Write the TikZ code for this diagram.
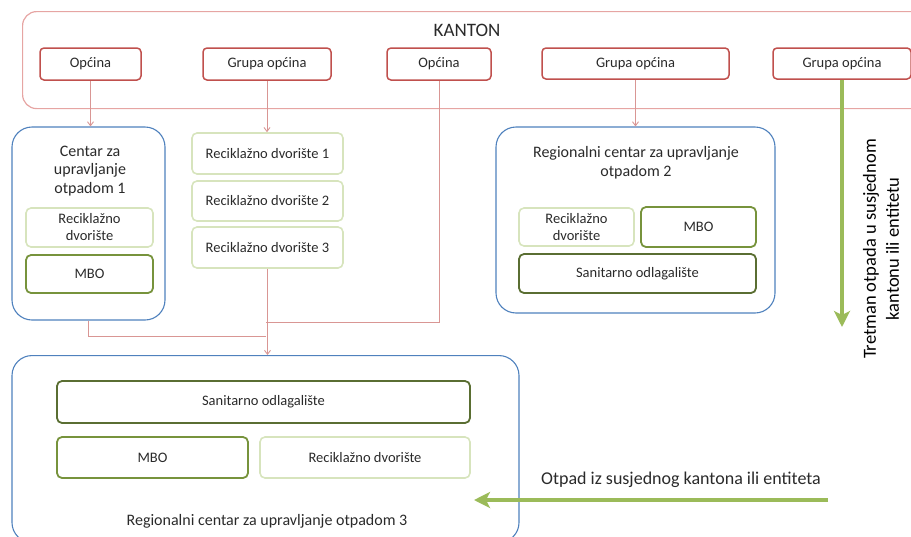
\documentclass[tikz,border=0pt]{standalone}
\usepackage{fontspec}
\setmainfont{Carlito}
\usetikzlibrary{arrows.meta}
\definecolor{kred}{HTML}{C0504D}
\definecolor{kpink}{HTML}{E6A5A3}
\definecolor{kline}{HTML}{D99694}
\definecolor{kblue}{HTML}{4F81BD}
\definecolor{lgreen}{HTML}{D7E4BD}
\definecolor{mgreen}{HTML}{77933C}
\definecolor{dgreen}{HTML}{5A6E32}
\definecolor{agreen}{HTML}{9BBB59}
\definecolor{txt}{HTML}{2A2A2A}
\tikzset{
  bt/.style={font=\fontsize{14.5}{17}\selectfont, text=txt, align=center, inner sep=1pt},
  redbox/.style={bt, draw=kred, line width=1.5pt, rounded corners=4pt, fill=white},
  bluebox/.style={draw=kblue, line width=1.1pt, rounded corners=20pt},
  lgbox/.style={bt, draw=lgreen, line width=1.6pt, rounded corners=5pt},
  mgbox/.style={bt, draw=mgreen, line width=1.8pt, rounded corners=5pt},
  dgbox/.style={bt, draw=dgreen, line width=1.8pt, rounded corners=5pt},
  redarrow/.style={draw=kline, line width=0.9pt, -{Straight Barb[length=4pt,width=6pt]}},
  redline/.style={draw=kline, line width=0.9pt},
  greenarrow/.style={draw=agreen, line width=3.2pt, -{Stealth[length=16pt,width=16pt,inset=4pt]}},
  lbl/.style={font=\fontsize{16}{19}\selectfont, text=txt, align=center, inner sep=1pt},
}
\begin{document}
\begin{tikzpicture}[x=1pt,y=-1pt]
\useasboundingbox (0,0) rectangle (911,536);
\clip (0,0) rectangle (911,536);
% KANTON container
\node[draw=kpink, line width=1.2pt, rounded corners=14pt, minimum width=910pt, minimum height=97pt, anchor=north west] (kanton) at (22,11) {};
\node[font=\fontsize{19}{21}\selectfont, text=txt] (kt) at (467,30) {KANTON};
% top boxes
\node[redbox, minimum width=101pt, minimum height=32pt] (o1) at (90.5,64) {Općina};
\node[redbox, minimum width=128pt, minimum height=32pt] (g1) at (267,64) {Grupa općina};
\node[redbox, minimum width=104pt, minimum height=32pt] (o2) at (439,64) {Općina};
\node[redbox, minimum width=187pt, minimum height=31pt] (g2) at (635.5,63.5) {Grupa općina};
\node[redbox, minimum width=138pt, minimum height=31pt] (g3) at (842,63.5) {Grupa općina};
% Centar 1
\node[bluebox, minimum width=153pt, minimum height=193pt] (c1) at (88.5,223.5) {};
\node[lbl, font=\fontsize{16}{18.5}\selectfont] (c1t) at (90,171) {Centar za\\upravljanje\\otpadom 1};
\node[lgbox, minimum width=127pt, minimum height=39pt] (c1r) at (89.5,227.5) {Reciklažno\\dvorište};
\node[mgbox, minimum width=127pt, minimum height=38pt] (c1m) at (89.5,274) {MBO};
% Reciklažna dvorišta
\node[lgbox, minimum width=151pt, minimum height=41pt] (r1) at (267.5,153.5) {Reciklažno dvorište 1};
\node[lgbox, minimum width=151pt, minimum height=40pt] (r2) at (267.5,201) {Reciklažno dvorište 2};
\node[lgbox, minimum width=151pt, minimum height=41pt] (r3) at (267.5,247.5) {Reciklažno dvorište 3};
% Regionalni 2
\node[bluebox, minimum width=279pt, minimum height=186pt] (c2) at (635.5,220) {};
\node[lbl] (c2t) at (636,162.5) {Regionalni centar za upravljanje\\otpadom 2};
\node[lgbox, minimum width=115pt, minimum height=38pt] (c2r) at (576.5,227) {Reciklažno\\dvorište};
\node[mgbox, minimum width=115pt, minimum height=40pt] (c2m) at (698.5,227) {MBO};
\node[dgbox, minimum width=237pt, minimum height=39pt] (c2s) at (637.5,273.5) {Sanitarno odlagalište};
% Regionalni 3
\node[bluebox, minimum width=507pt, minimum height=187pt, anchor=north] (c3) at (265.5,355) {};
\node[dgbox, minimum width=413pt, minimum height=42pt] (c3s) at (263.5,402) {Sanitarno odlagalište};
\node[mgbox, minimum width=191pt, minimum height=41pt] (c3m) at (152.5,457.5) {MBO};
\node[lgbox, minimum width=210pt, minimum height=41pt] (c3r) at (365,457.5) {Reciklažno dvorište};
\node[lbl] (c3t) at (267,521) {Regionalni centar za upravljanje otpadom 3};
% red connectors
\draw[redarrow] (o1.south) -- (o1.south |- c1.north);
\draw[redarrow] (g1.south) -- (g1.south |- r1.north);
\draw[redarrow] (g2.south) -- (g2.south |- c2.north);
\coordinate (j1) at (266,322);
\coordinate (j2) at (266,336);
\draw[redline] (o2.south) |- (j1);
\draw[redline] (c1.south) |- (j2);
\draw[redarrow] (r3.south) -- (r3.south |- c3.north);
% green arrows
\coordinate (gend) at (842,327);
\draw[greenarrow] (g3.south) -- (gend);
\node[font=\fontsize{18.5}{23}\selectfont, text=black, rotate=90, align=center] (tret) at (881,249) {Tretman otpada u susjednom\\kantonu ili entitetu};
\coordinate (hs) at (828,500);
\coordinate (he) at (474,500);
\draw[greenarrow] (hs) -- (he);
\node[font=\fontsize{18}{20}\selectfont, text=txt] (otp) at (681,480) {Otpad iz susjednog kantona ili entiteta};
\end{tikzpicture}
\end{document}
